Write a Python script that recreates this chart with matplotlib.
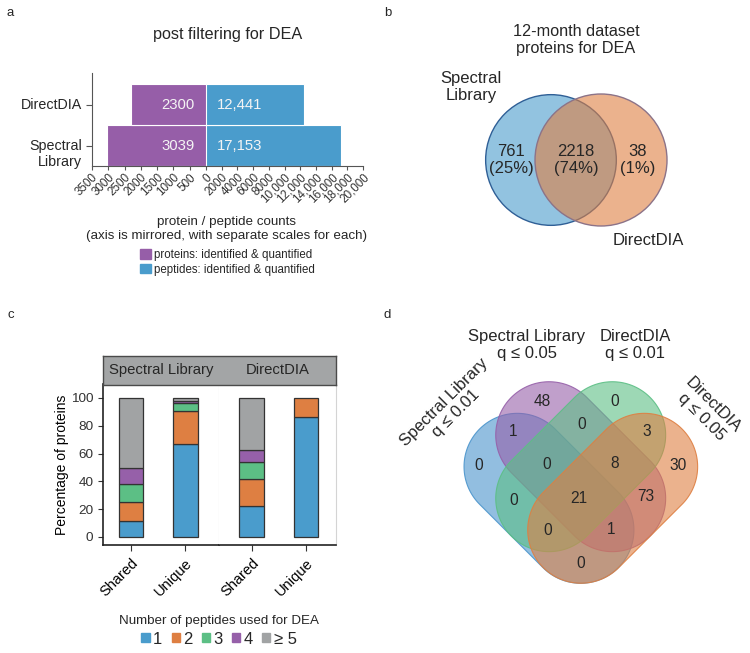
import numpy as np
import matplotlib
matplotlib.use("Agg")
import matplotlib.pyplot as plt
from matplotlib.patches import Patch, Circle, Polygon
from matplotlib.colors import to_rgba

plt.rcParams['font.family'] = ['Liberation Sans', 'DejaVu Sans']
plt.rcParams['text.color'] = '#262626'

# ---- data ----
# a: counts after filtering
methods = ["Spectral\nLibrary", "DirectDIA"]
protein_counts = [3039, 2300]
peptide_counts = [17153, 12441]
protein_ticks = [3500, 3000, 2500, 2000, 1500, 1000, 500]
peptide_ticks = [0, 2000, 4000, 6000, 8000, 10000, 12000, 14000, 16000, 18000, 20000]

# b: 12-month proteins (SL only, both, DD only)
venn2_names = ["Spectral\nLibrary", "DirectDIA"]
venn2_counts = [761, 2218, 38]

# c: number of peptides per protein (percent)
facets = ["Spectral Library", "DirectDIA"]
groups = ["Shared", "Unique"]
pep_bins = ["1", "2", "3", "4", "≥ 5"]
sl_shared = [11.5, 13.9, 12.7, 11.3, 50.6]
sl_unique = [66.9, 23.5, 5.8, 1.6, 2.2]
dd_shared = [22.5, 19.0, 12.7, 8.6, 37.2]
dd_unique = [86.6, 13.4, 0, 0, 0]

# d: regions coded by membership (SL 0.01, SL 0.05, DD 0.01, DD 0.05)
venn4_names = ["Spectral Library\nq ≤ 0.01", "Spectral Library\nq ≤ 0.05",
               "DirectDIA\nq ≤ 0.01", "DirectDIA\nq ≤ 0.05"]
venn4_regions = ["1000", "0100", "0010", "0001", "1100", "0110", "0011", "1010",
                 "0101", "1001", "1110", "0111", "1011", "1101", "1111"]
venn4_counts = [0, 48, 0, 30, 1, 0, 3, 0, 73, 0, 0, 8, 0, 1, 21]

purple = '#965EA8'
blue = '#4A9CCC'
stack_colors = ['#4A9CCC', '#DE7F42', '#5CBF85', '#9660A9', '#A1A3A4']
axis_grey = '#555555'

W, H = 750, 653
fig = plt.figure(figsize=(7.5, 6.53), dpi=100)


def px_axes(x0, y0, w, h):
    return fig.add_axes([x0 / W, 1 - (y0 + h) / H, w / W, h / H])


def ftext(x, y, s, **kw):
    kw.setdefault('ha', 'center')
    kw.setdefault('va', 'center')
    return fig.text(x / W, 1 - y / H, s, **kw)


def unit_axes(x0, y0, w, h, cx, cy, unit):
    ax = px_axes(x0, y0, w, h)
    ax.set_xlim((x0 - cx) / unit, (x0 + w - cx) / unit)
    ax.set_ylim((cy - y0 - h) / unit, (cy - y0) / unit)
    ax.axis("off")
    return ax


for lab, x, y in [("a", 10, 13), ("b", 388, 13), ("c", 11, 315), ("d", 387, 315)]:
    ftext(x, y, lab, fontsize=9.5)

# ---------------- panel a ----------------
axP = px_axes(92, 73, 114, 93)
axQ = px_axes(206, 73, 157, 93)
ypos = np.arange(len(methods))
axP.barh(ypos, protein_counts, height=1.0, color=purple, edgecolor='white', linewidth=0.8)
axQ.barh(ypos, peptide_counts, height=1.0, color=blue, edgecolor='white', linewidth=0.8)
axP.set_xlim(3500, 0)
axQ.set_xlim(0, 20000)
for ax in (axP, axQ):
    ax.set_ylim(-0.5, 1.78)
    for s in ('top', 'right', 'left', 'bottom'):
        ax.spines[s].set_visible(False)
    ax.spines['bottom'].set_visible(True)
    ax.spines['bottom'].set_color(axis_grey)
    ax.tick_params(axis='x', length=3, color=axis_grey, labelsize=8.4, pad=1, labelcolor='#333333')
axP.spines['left'].set_visible(True)
axP.spines['left'].set_color(axis_grey)
axP.set_xticks(protein_ticks)
axP.set_xticklabels([str(v) for v in protein_ticks], rotation=45, ha='right', rotation_mode='anchor')
axQ.set_xticks(peptide_ticks)
axQ.set_xticklabels([f"{v:,}" if v >= 10000 else str(v) for v in peptide_ticks],
                    rotation=45, ha='right', rotation_mode='anchor')
axP.set_yticks(ypos)
axP.set_yticklabels([])
axP.tick_params(axis='y', length=4, color=axis_grey)
axQ.set_yticks([])
for y, name in zip(ypos, methods):
    dy = -6 if "\n" in name else 0
    axP.annotate(name, xy=(0, y), xycoords=axP.get_yaxis_transform(), xytext=(-7, dy),
                 textcoords='offset points', ha='right', va='center', fontsize=10.3,
                 multialignment='right', linespacing=1.15)
for y, pv, qv in zip(ypos, protein_counts, peptide_counts):
    axP.annotate(str(pv), xy=(0, y), xytext=(-8, 0), textcoords='offset points',
                 ha='right', va='center', color='#f4f4f4', fontsize=10.7)
    axQ.annotate(f"{qv:,}", xy=(0, y), xytext=(8, 0), textcoords='offset points',
                 ha='left', va='center', color='#f4f4f4', fontsize=10.7)
ftext(228, 35, "post filtering for DEA", fontsize=11.7)
ftext(227, 229, "protein / peptide counts\n(axis is mirrored, with separate scales for each)",
      fontsize=9.6, linespacing=1.3)
fig.legend([Patch(color=purple), Patch(color=blue)],
           ["proteins: identified & quantified", "peptides: identified & quantified"],
           loc='upper left', bbox_to_anchor=(140 / W, 1 - 249 / H), frameon=False,
           fontsize=8.3, handlelength=0.95, handleheight=0.85, handletextpad=0.25,
           labelspacing=0.25, borderpad=0, borderaxespad=0)

# ---------------- panel b ----------------
axB = unit_axes(440, 60, 270, 200, 576, 160, 66)
axB.add_patch(Circle((-0.379, 0), 0.99, facecolor=to_rgba(blue, 0.6), edgecolor='#2F5F96', lw=1.0))
axB.add_patch(Circle((0.379, 0), 1.0, facecolor=to_rgba('#DE7F42', 0.6), edgecolor='#8C7388', lw=1.0))
total = sum(venn2_counts)
for x, c in zip([-0.985, 0.0, 0.94], venn2_counts):
    axB.text(x, 0.0, f"{c}\n({round(100 * c / total)}%)", ha='center', va='center',
             fontsize=12, linespacing=1.1)
ftext(576, 40, "12-month dataset\nproteins for DEA", fontsize=11.7, linespacing=1.1)
ftext(471, 87, venn2_names[0], fontsize=12, linespacing=1.1)
ftext(648, 240, venn2_names[1], fontsize=12)

# ---------------- panel c ----------------
facet_data = {"Spectral Library": [sl_shared, sl_unique], "DirectDIA": [dd_shared, dd_unique]}
axL = px_axes(103, 384, 116, 161)
axR = px_axes(219, 384, 117, 161)
for ax, facet, xl in zip([axL, axR], facets, [(-0.52, 1.62), (-0.6, 1.55)]):
    for gi, vals in enumerate(facet_data[facet]):
        bottom = 0
        for v, col in zip(vals, stack_colors):
            if v > 0:
                ax.bar(gi, v, bottom=bottom, width=0.45, color=col, edgecolor='#333333', linewidth=0.9)
            bottom += v
    ax.set_xlim(*xl)
    ax.set_ylim(-5.8, 110)
    ax.set_xticks([0, 1])
    ax.set_xticklabels(groups, rotation=45, ha='right', va='top', rotation_mode='anchor', fontsize=10.5)
    ax.tick_params(axis='x', length=4, color='#333333', pad=4)
    ax.spines['top'].set_visible(False)
    ax.spines['bottom'].set_color('#222222')
    ax.spines['bottom'].set_linewidth(1.2)
    ax.spines['right'].set_color('#d4d4d4')
axL.spines['left'].set_color('#222222')
axL.spines['left'].set_linewidth(1.2)
axR.spines['left'].set_visible(False)
axL.set_yticks([0, 20, 40, 60, 80, 100])
axL.tick_params(axis='y', length=3.5, labelsize=9.7, color='#333333', labelcolor='#333333')
axL.set_ylabel("Percentage of proteins", fontsize=10, labelpad=1)
axR.set_yticks([])

axS = px_axes(103, 356, 233, 28.5)
axS.set_facecolor('#A3A5A6')
axS.set_xticks([])
axS.set_yticks([])
for s in axS.spines.values():
    s.set_color('#4a4a4a')
    s.set_linewidth(1.0)
for x, facet in zip([0.249, 0.749], facets):
    axS.text(x, 0.5, facet, transform=axS.transAxes, ha='center', va='center', fontsize=10.7)

ftext(219, 621, "Number of peptides used for DEA", fontsize=9.6)
fig.legend([Patch(color=c) for c in stack_colors], pep_bins, ncol=5, fontsize=12,
           loc='center', bbox_to_anchor=(219 / W, 1 - 639 / H), frameon=False,
           handlelength=0.5, handleheight=0.5, handletextpad=0.2, columnspacing=0.55,
           borderpad=0, borderaxespad=0)

# ---------------- panel d ----------------
def stadium(cx, cy, angle, a=0.84, r=1.0, n=80):
    t1 = np.linspace(-np.pi / 2, np.pi / 2, n)
    t2 = np.linspace(np.pi / 2, 3 * np.pi / 2, n)
    pts = np.vstack([np.column_stack([a + r * np.cos(t1), r * np.sin(t1)]),
                     np.column_stack([-a + r * np.cos(t2), r * np.sin(t2)])])
    th = np.deg2rad(angle)
    rot = np.array([[np.cos(th), -np.sin(th)], [np.sin(th), np.cos(th)]])
    return pts @ rot.T + np.array([cx, cy])


axD = unit_axes(430, 360, 300, 240, 580.7, 498.3, 53.3)
shape_pos = [(-0.595, 0.0, 135), (0.0, 0.593, 135), (0.0, 0.593, 45), (0.6, 0.0, 45)]
venn4_colors = ['#4A94CC', '#9660A9', '#5CBF85', '#DE7F42']
for (cx, cy, ang), col in zip(shape_pos, venn4_colors):
    axD.add_patch(Polygon(stadium(cx, cy, ang), closed=True, facecolor=to_rgba(col, 0.6),
                          edgecolor=to_rgba(col, 0.9), lw=0.8))
region_xy = {"1000": (-1.92, 0.62), "0100": (-0.73, 1.82), "0010": (0.64, 1.82),
             "0001": (1.83, 0.62), "1100": (-1.26, 1.25), "0110": (0.01, 1.38),
             "0011": (1.24, 1.25), "1010": (-1.26, -0.05), "0101": (1.22, 0.03),
             "1001": (0.0, -1.23), "1110": (-0.64, 0.64), "0111": (0.64, 0.65),
             "1011": (-0.61, -0.6), "1101": (0.58, -0.58), "1111": (-0.04, 0.0)}
for reg, c in zip(venn4_regions, venn4_counts):
    x, y = region_xy[reg]
    axD.text(x, y, str(c), ha='center', va='center', fontsize=11.2)
ftext(450, 408, venn4_names[0], fontsize=12, rotation=45, linespacing=1.1)
ftext(527, 345, venn4_names[1], fontsize=12, linespacing=1.1)
ftext(635, 345, venn4_names[2], fontsize=12, linespacing=1.1)
ftext(707, 411, venn4_names[3], fontsize=12, rotation=-45, linespacing=1.1)

fig.savefig("out.png", dpi=100)
